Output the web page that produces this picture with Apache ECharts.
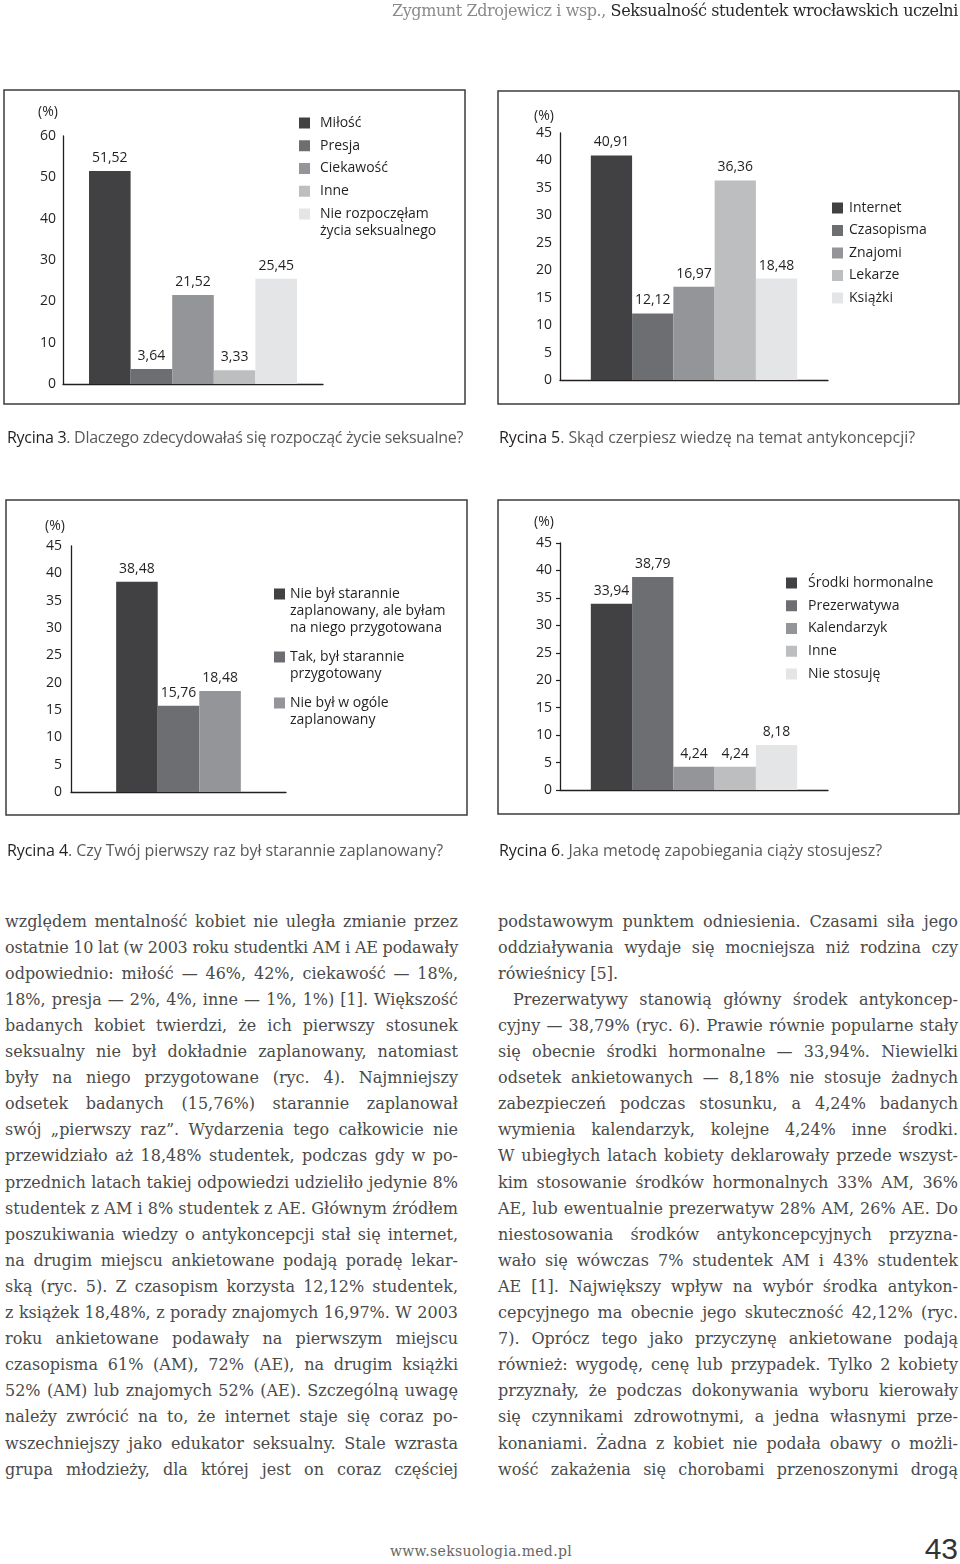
<!DOCTYPE html>
<html>
<head>
<meta charset="utf-8">
<script src="https://cdn.jsdelivr.net/npm/echarts@6/dist/echarts.min.js"></script>
<style>
html,body{margin:0;padding:0;background:#fff;}
#page{position:relative;width:960px;height:1564px;overflow:hidden;background:#fff;}
#chart{position:absolute;left:0;top:0;width:960px;height:880px;}
.ln{position:absolute;white-space:nowrap;font-family:"DejaVu Serif",serif;font-size:16px;line-height:26px;height:26px;color:#4a4a4a;}
.cap{position:absolute;white-space:nowrap;font-family:"Open Sans",sans-serif;font-size:16px;line-height:20px;color:#5a5a5a;}
.cap b{font-weight:normal;color:#231f20;}
#hdr{position:absolute;white-space:nowrap;font-family:"DejaVu Serif",serif;font-size:16px;line-height:26px;color:#8a8a8a;}
#hdr b{font-weight:normal;color:#2a2a2a;}
#url{position:absolute;white-space:nowrap;font-family:"DejaVu Serif",serif;font-size:14px;line-height:20px;color:#666;}
#pg{position:absolute;white-space:nowrap;font-family:"Liberation Sans Narrow","Liberation Sans",sans-serif;font-size:30px;line-height:30px;color:#333;}
</style>
</head>
<body>
<div id="page">
  <div id="chart"></div>
</div>
<script>
// ---------------- DATA ----------------
const fig3Labels = ['Miłość', 'Presja', 'Ciekawość', 'Inne', 'Nie rozpoczęłam\nżycia seksualnego'];
const fig3Values = [51.52, 3.64, 21.52, 3.33, 25.45];
const fig3Ticks = [0, 60, 10];          // min, max, step

const fig5Labels = ['Internet', 'Czasopisma', 'Znajomi', 'Lekarze', 'Książki'];
const fig5Values = [40.91, 12.12, 16.97, 36.36, 18.48];
const fig5Ticks = [0, 45, 5];

const fig4Labels = ['Nie był starannie\nzaplanowany, ale byłam\nna niego przygotowana', 'Tak, był starannie\nprzygotowany', 'Nie był w ogóle\nzaplanowany'];
const fig4Values = [38.48, 15.76, 18.48];
const fig4Ticks = [0, 45, 5];

const fig6Labels = ['Środki hormonalne', 'Prezerwatywa', 'Kalendarzyk', 'Inne', 'Nie stosuję'];
const fig6Values = [33.94, 38.79, 4.24, 4.24, 8.18];
const fig6Ticks = [0, 45, 5];

const unitLabel = '(%)';

const captions = [
  ['Rycina 3', '. Dlaczego zdecydowałaś się rozpocząć życie seksualne?'],
  ['Rycina 5', '. Skąd czerpiesz wiedzę na temat antykoncepcji?'],
  ['Rycina 4', '. Czy Twój pierwszy raz był starannie zaplanowany?'],
  ['Rycina 6', '. Jaka metodę zapobiegania ciąży stosujesz?']
];

const headerAuthor = 'Zygmunt Zdrojewicz i wsp., ';
const headerTitle = 'Seksualność studentek wrocławskich uczelni';
const footerUrl = 'www.seksuologia.med.pl';
const pageNumber = '43';

const leftLines = [
  'względem mentalność kobiet nie uległa zmianie przez',
  'ostatnie 10 lat (w 2003 roku studentki AM i AE podawały',
  'odpowiednio: miłość — 46%, 42%, ciekawość — 18%,',
  '18%, presja — 2%, 4%, inne — 1%, 1%) [1]. Większość',
  'badanych kobiet twierdzi, że ich pierwszy stosunek',
  'seksualny nie był dokładnie zaplanowany, natomiast',
  'były na niego przygotowane (ryc. 4). Najmniejszy',
  'odsetek badanych (15,76%) starannie zaplanował',
  'swój „pierwszy raz”. Wydarzenia tego całkowicie nie',
  'przewidziało aż 18,48% studentek, podczas gdy w po-',
  'przednich latach takiej odpowiedzi udzieliło jedynie 8%',
  'studentek z AM i 8% studentek z AE. Głównym źródłem',
  'poszukiwania wiedzy o antykoncepcji stał się internet,',
  'na drugim miejscu ankietowane podają poradę lekar-',
  'ską (ryc. 5). Z czasopism korzysta 12,12% studentek,',
  'z książek 18,48%, z porady znajomych 16,97%. W 2003',
  'roku ankietowane podawały na pierwszym miejscu',
  'czasopisma 61% (AM), 72% (AE), na drugim książki',
  '52% (AM) lub znajomych 52% (AE). Szczególną uwagę',
  'należy zwrócić na to, że internet staje się coraz po-',
  'wszechniejszy jako edukator seksualny. Stale wzrasta',
  'grupa młodzieży, dla której jest on coraz częściej'
];
const rightLines = [
  'podstawowym punktem odniesienia. Czasami siła jego',
  'oddziaływania wydaje się mocniejsza niż rodzina czy',
  'rówieśnicy [5].',
  'Prezerwatywy stanowią główny środek antykoncep-',
  'cyjny — 38,79% (ryc. 6). Prawie równie popularne stały',
  'się obecnie środki hormonalne — 33,94%. Niewielki',
  'odsetek ankietowanych — 8,18% nie stosuje żadnych',
  'zabezpieczeń podczas stosunku, a 4,24% badanych',
  'wymienia kalendarzyk, kolejne 4,24% inne środki.',
  'W ubiegłych latach kobiety deklarowały przede wszyst-',
  'kim stosowanie środków hormonalnych 33% AM, 36%',
  'AE, lub ewentualnie prezerwatyw 28% AM, 26% AE. Do',
  'niestosowania środków antykoncepcyjnych przyzna-',
  'wało się wówczas 7% studentek AM i 43% studentek',
  'AE [1]. Największy wpływ na wybór środka antykon-',
  'cepcyjnego ma obecnie jego skuteczność 42,12% (ryc.',
  '7). Oprócz tego jako przyczynę ankietowane podają',
  'również: wygodę, cenę lub przypadek. Tylko 2 kobiety',
  'przyznały, że podczas dokonywania wyboru kierowały',
  'się czynnikami zdrowotnymi, a jedna własnymi prze-',
  'konaniami. Żadna z kobiet nie podała obawy o możli-',
  'wość zakażenia się chorobami przenoszonymi drogą'
];

// ---------------- STYLE / LAYOUT ----------------
const grays = ['#414042', '#6d6e71', '#939598', '#bcbec0', '#e4e5e6'];
const ink = '#231f20';
const FONT = '"Open Sans", "Noto Sans", sans-serif';

const layouts = [
  { labels: fig3Labels, values: fig3Values, ticks: fig3Ticks,
    grid: {left: 63, top: 136, width: 260, height: 248}, gap: '20%', margin: 7, showTicks: false,
    box: [4, 90, 461, 314], unit: [48, 112],
    legends: [{items: [0, 1, 2, 3], left: 299, top: 114.5, gap: 5.75, pl: 5},
              {items: [4], left: 299, top: 188.5, gap: 0, pl: 5}] },
  { labels: fig5Labels, values: fig5Values, ticks: fig5Ticks,
    grid: {left: 560, top: 133, width: 268, height: 247}, gap: '23%', margin: 8, showTicks: false,
    box: [498, 91, 461, 313], unit: [544, 116],
    legends: [{items: [0, 1, 2, 3, 4], left: 832, top: 199.5, gap: 5.5, pl: 1}] },
  { labels: fig4Labels, values: fig4Values, ticks: fig4Ticks,
    grid: {left: 71, top: 546, width: 215, height: 246}, gap: '42%', margin: 9, showTicks: false,
    box: [6, 500, 461, 315], unit: [55, 526],
    legends: [{items: [0, 1, 2], left: 274, top: 551.5, gap: -5, pl: 0}] },
  { labels: fig6Labels, values: fig6Values, ticks: fig6Ticks,
    grid: {left: 560, top: 543, width: 268, height: 247}, gap: '23%', margin: 8, showTicks: true,
    box: [498, 500, 461, 314], unit: [544, 522],
    legends: [{items: [0, 1, 2, 3, 4], left: 786, top: 574.5, gap: 5.75, pl: 6}] }
];

const LH = 17;
const fmt = v => Number(v).toFixed(2).replace('.', ',');
// keep the icon level with the first line of a wrapped legend entry
const legendText = name => {
  const lines = name.split('\n');
  return lines.slice(1).map(() => '\u200b').concat(lines).join('\n');
};

const grid = [], xAxis = [], yAxis = [], series = [], legend = [], graphic = [];
layouts.forEach((c, k) => {
  grid.push(Object.assign({containLabel: false}, c.grid));
  xAxis.push({
    gridIndex: k, type: 'category', data: [''],
    axisLine: {show: true, lineStyle: {color: ink, width: 1.3}},
    axisTick: {show: false}, axisLabel: {show: false}, splitLine: {show: false}
  });
  yAxis.push({
    gridIndex: k, type: 'value', min: c.ticks[0], max: c.ticks[1], interval: c.ticks[2],
    axisLine: {show: true, lineStyle: {color: ink, width: 1.3}},
    axisTick: {show: c.showTicks, length: 4, lineStyle: {color: ink, width: 1.2}},
    splitLine: {show: false},
    axisLabel: {margin: c.margin, fontSize: 14, color: ink, fontFamily: FONT}
  });
  c.labels.forEach((name, i) => {
    series.push({
      type: 'bar', name: name, xAxisIndex: k, yAxisIndex: k,
      data: [c.values[i]],
      barGap: '0%', barCategoryGap: c.gap,
      itemStyle: {color: grays[i]},
      label: {show: true, position: 'top', distance: 6, fontSize: 14, color: ink, fontFamily: FONT,
              formatter: p => fmt(p.value)},
      emphasis: {disabled: true}
    });
  });
  c.legends.forEach(lg => {
    legend.push({
      orient: 'vertical', left: lg.left, top: lg.top, padding: 0,
      itemWidth: 11, itemHeight: 11, itemGap: lg.gap, icon: 'rect', selectedMode: false,
      formatter: legendText,
      textStyle: {fontSize: 14, fontFamily: FONT, color: ink, lineHeight: LH,
                  backgroundColor: 'rgba(255,255,255,0)', padding: [0, 0, 0, lg.pl]},
      data: lg.items.map(i => c.labels[i])
    });
  });
  graphic.push({
    type: 'rect', silent: true, z: -1,
    shape: {x: c.box[0], y: c.box[1], width: c.box[2], height: c.box[3]},
    style: {fill: 'none', stroke: '#3c3c3c', lineWidth: 1.5}
  });
  graphic.push({
    type: 'text', silent: true, x: c.unit[0], y: c.unit[1],
    style: {text: unitLabel, fontSize: 14, fontFamily: FONT, fill: ink, align: 'center', verticalAlign: 'middle'}
  });
});

const chart = echarts.init(document.getElementById('chart'), null, {renderer: 'canvas'});
chart.setOption({
  animation: false,
  backgroundColor: 'transparent',
  textStyle: {fontFamily: FONT},
  grid, xAxis, yAxis, series, legend, graphic
});

// ---------------- PAGE TEXT ----------------
const page = document.getElementById('page');
function fit(el, target) {
  el.style.letterSpacing = '0px';
  el.style.wordSpacing = '0px';
  const text = el.textContent;
  const spaces = (text.match(/ /g) || []).length;
  let w = el.getBoundingClientRect().width;
  let diff = target - w;
  if (diff < 0 || spaces === 0) {
    el.style.letterSpacing = (diff / text.length) + 'px';
    w = el.getBoundingClientRect().width;
    diff = target - w;
  }
  if (spaces > 0) el.style.wordSpacing = (diff / spaces) + 'px';
}
function addLine(text, left, top, width, justify, cls) {
  const d = document.createElement('div');
  d.className = cls || 'ln';
  d.textContent = text;
  d.style.left = left + 'px';
  d.style.top = top + 'px';
  page.appendChild(d);
  if (justify) fit(d, width);
  return d;
}
const baseTop = 908.5, step = 26.1;
leftLines.forEach((t, i) => addLine(t, 5, baseTop + i * step, 453, true));
rightLines.forEach((t, i) => {
  if (i === 2) addLine(t, 498, baseTop + i * step, 0, false);
  else if (i === 3) addLine(t, 513, baseTop + i * step, 445, true);
  else addLine(t, 498, baseTop + i * step, 460, true);
});

// captions
const capPos = [[7, 427, 456], [499, 427, 416], [7, 840, 436], [499, 840, 383]];
captions.forEach((c, i) => {
  const d = document.createElement('div');
  d.className = 'cap';
  d.innerHTML = '<b></b><span></span>';
  d.firstChild.textContent = c[0];
  d.lastChild.textContent = c[1];
  d.style.left = capPos[i][0] + 'px';
  d.style.top = capPos[i][1] + 'px';
  page.appendChild(d);
  fit(d, capPos[i][2]);
});

// header
const h = document.createElement('div');
h.id = 'hdr';
h.innerHTML = '<span></span><b></b>';
h.firstChild.textContent = headerAuthor;
h.lastChild.textContent = headerTitle;
h.style.left = '392px';
h.style.top = '-2px';
page.appendChild(h);
fit(h, 566);

// footer
const u = document.createElement('div');
u.id = 'url'; u.textContent = footerUrl;
u.style.left = '390px'; u.style.top = '1541px';
page.appendChild(u);
fit(u, 182);
const p = document.createElement('div');
p.id = 'pg'; p.textContent = pageNumber;
p.style.right = '2px'; p.style.top = '1534px';
page.appendChild(p);
</script>
</body>
</html>
